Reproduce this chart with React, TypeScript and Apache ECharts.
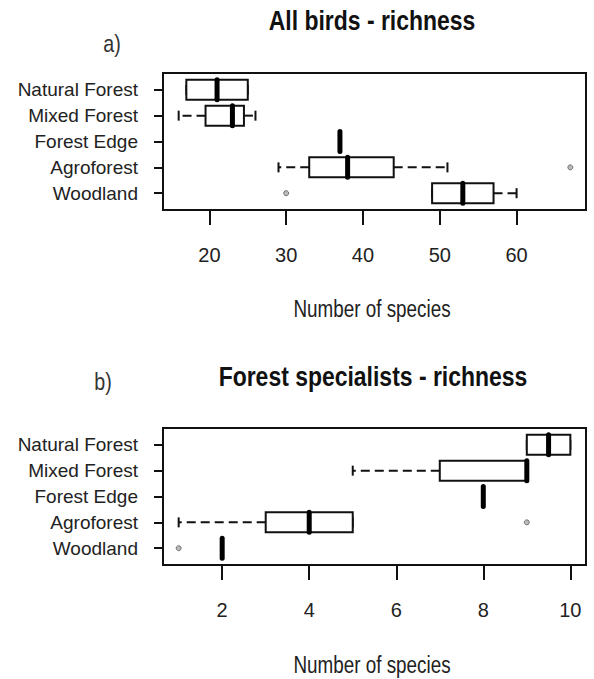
import React, { useEffect, useRef } from "react";
import * as echarts from "echarts";

const categories = ["Natural Forest", "Mixed Forest", "Forest Edge", "Agroforest", "Woodland"];

// [min, Q1, median, Q3, max]
const allBirdsStats = [
  [17, 17, 21, 25, 25],
  [16, 19.5, 23, 24.5, 26],
  [37, 37, 37, 37, 37],
  [29, 33, 38, 44, 51],
  [49, 49, 53, 57, 60],
];
// [category index, value]
const allBirdsOutliers = [
  [3, 67],
  [4, 30],
];
const allBirdsTicks = [20, 30, 40, 50, 60];

const specialistStats = [
  [9, 9, 9.5, 10, 10],
  [5, 7, 9, 9, 9],
  [8, 8, 8, 8, 8],
  [1, 3, 4, 5, 5],
  [2, 2, 2, 2, 2],
];
const specialistOutliers = [
  [3, 9],
  [4, 1],
];
const specialistTicks = [2, 4, 6, 8, 10];

const titles = ["All birds - richness", "Forest specialists - richness"];
const panelLabels = ["a)", "b)"];
const xAxisTitle = "Number of species";

const SANS = "'Liberation Sans', Arial, sans-serif";

function rRange(stats: number[][], outliers: number[][]) {
  const vals: number[] = [];
  stats.forEach((s) => vals.push(...s));
  outliers.forEach((o) => vals.push(o[1]));
  const lo = Math.min(...vals);
  const hi = Math.max(...vals);
  const pad = (hi - lo) * 0.04;
  return [lo - pad, hi + pad];
}

const renderBox = (params: any, api: any) => {
  const y = api.value(0);
  const pMin = api.coord([api.value(1), y]);
  const pQ1 = api.coord([api.value(2), y]);
  const pMed = api.coord([api.value(3), y]);
  const pQ3 = api.coord([api.value(4), y]);
  const pMax = api.coord([api.value(5), y]);
  const py = pMed[1];
  const half = 10;
  const staple = 5;
  const children: any[] = [];
  if (pMin[0] < pQ1[0]) {
    children.push({
      type: "line",
      shape: { x1: pQ1[0], y1: py, x2: pMin[0], y2: py },
      style: { stroke: "#111", lineWidth: 2, lineDash: [9, 5] },
    });
  }
  if (pMax[0] > pQ3[0]) {
    children.push({
      type: "line",
      shape: { x1: pQ3[0], y1: py, x2: pMax[0], y2: py },
      style: { stroke: "#111", lineWidth: 2, lineDash: [9, 5] },
    });
  }
  children.push({
    type: "line",
    shape: { x1: pMin[0], y1: py - staple, x2: pMin[0], y2: py + staple },
    style: { stroke: "#111", lineWidth: 2 },
  });
  children.push({
    type: "line",
    shape: { x1: pMax[0], y1: py - staple, x2: pMax[0], y2: py + staple },
    style: { stroke: "#111", lineWidth: 2 },
  });
  if (pQ3[0] > pQ1[0]) {
    children.push({
      type: "rect",
      shape: { x: pQ1[0], y: py - half, width: pQ3[0] - pQ1[0], height: half * 2 },
      style: { fill: "#fff", stroke: "#111", lineWidth: 2 },
    });
  }
  children.push({
    type: "line",
    shape: { x1: pMed[0], y1: py - half, x2: pMed[0], y2: py + half },
    style: { stroke: "#000", lineWidth: 5, lineCap: "round" },
  });
  return { type: "group", children };
};

export default function App() {
  const ref = useRef<HTMLDivElement>(null);
  useEffect(() => {
    if (!ref.current) return;
    const chart = echarts.init(ref.current, null, { renderer: "svg" });
    const panels = [
      { stats: allBirdsStats, outliers: allBirdsOutliers, ticks: allBirdsTicks, top: 73 },
      { stats: specialistStats, outliers: specialistOutliers, ticks: specialistTicks, top: 428 },
    ];
    const grid: any[] = [];
    const xAxis: any[] = [];
    const yAxis: any[] = [];
    const series: any[] = [];
    panels.forEach((p, i) => {
      const [lo, hi] = rRange(p.stats, p.outliers);
      grid.push({
        left: 163,
        top: p.top,
        width: 423,
        height: 137,
        show: true,
        borderColor: "#111",
        borderWidth: 2,
        backgroundColor: "transparent",
      });
      xAxis.push({
        type: "value",
        gridIndex: i,
        min: lo,
        max: hi,
        axisLine: { show: false },
        axisTick: { show: true, length: 15, customValues: p.ticks, lineStyle: { color: "#111", width: 2 } },
        axisLabel: {
          show: true,
          customValues: p.ticks,
          margin: 35,
          fontFamily: SANS,
          fontSize: 20,
          color: "#222",
        },
        splitLine: { show: false },
      });
      yAxis.push({
        type: "value",
        gridIndex: i,
        min: 0.35,
        max: 5.65,
        inverse: true,
        axisLine: { show: false },
        axisTick: { show: true, length: 9, customValues: [1, 2, 3, 4, 5], lineStyle: { color: "#111", width: 2 } },
        axisLabel: {
          show: true,
          customValues: [1, 2, 3, 4, 5],
          formatter: (v: number) => categories[Math.round(v) - 1] || "",
          margin: 25,
          fontFamily: SANS,
          fontSize: 19,
          color: "#222",
        },
        splitLine: { show: false },
      });
      series.push({
        type: "custom",
        xAxisIndex: i,
        yAxisIndex: i,
        renderItem: renderBox,
        encode: { x: [1, 2, 3, 4, 5], y: 0 },
        data: p.stats.map((s, k) => [k + 1, ...s]),
        silent: true,
      });
      series.push({
        type: "scatter",
        xAxisIndex: i,
        yAxisIndex: i,
        symbol: "circle",
        symbolSize: 5,
        itemStyle: { color: "#aaa", borderColor: "#555", borderWidth: 1 },
        data: p.outliers.map((o) => [o[1], o[0] + 1]),
        silent: true,
      });
    });
    const narrowText = (text: string, x: number, y: number, font: string, fill: string) => ({
      type: "text",
      x,
      y,
      scaleX: 0.82,
      style: { text, font, fill, textAlign: "center", textVerticalAlign: "middle" },
    });
    chart.setOption({
      animation: false,
      backgroundColor: "#fff",
      grid,
      xAxis,
      yAxis,
      series,
      graphic: [
        narrowText(titles[0], 372, 20, `bold 28px ${SANS}`, "#111"),
        narrowText(titles[1], 373, 376, `bold 28px ${SANS}`, "#111"),
        narrowText(panelLabels[0], 112, 44, `24px ${SANS}`, "#333"),
        narrowText(panelLabels[1], 103, 382, `24px ${SANS}`, "#333"),
        narrowText(xAxisTitle, 372, 309, `23px ${SANS}`, "#222"),
        narrowText(xAxisTitle, 372, 665, `23px ${SANS}`, "#222"),
      ],
    });
    return () => chart.dispose();
  }, []);
  return (
    <div
      ref={ref}
      style={{ position: "fixed", left: 0, top: 0, width: 594, height: 679, background: "#fff" }}
    />
  );
}
